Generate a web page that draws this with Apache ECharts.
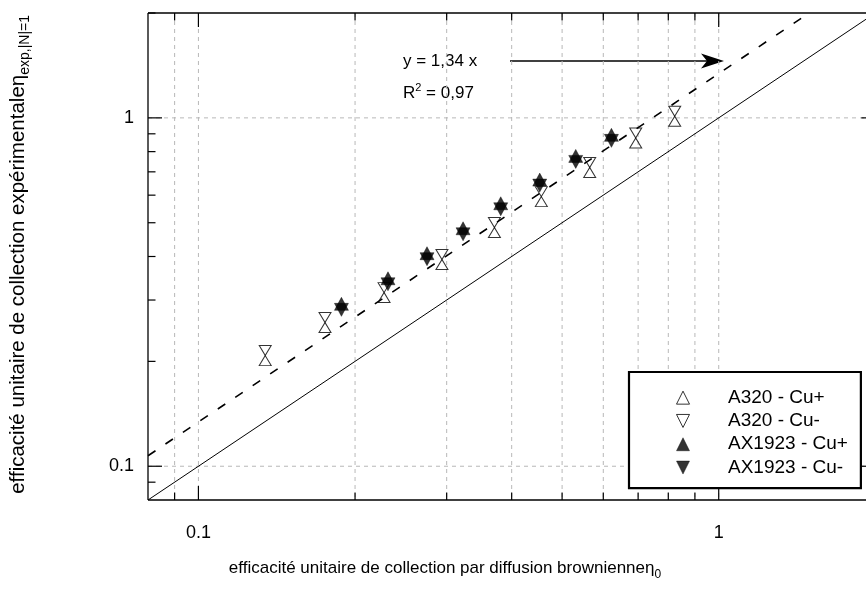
<!DOCTYPE html>
<html>
<head>
<meta charset="utf-8">
<script src="https://cdn.jsdelivr.net/npm/echarts@6/dist/echarts.min.js"></script>
<style>html,body{margin:0;padding:0;background:#fff;}#c{width:866px;height:591px;}</style>
</head>
<body>
<div id="c"></div>
<script>
// ---- data ----
const xMajorTicks = [0.1, 1];
const xTickLabels = ['0.1', '1'];
const yMajorTicks = [0.1, 1];
const yTickLabels = ['0.1', '1'];
const xMinorTicks = [0.09, 0.2, 0.3, 0.4, 0.5, 0.6, 0.7, 0.8, 0.9];
const yMinorTicks = [0.09, 0.2, 0.3, 0.4, 0.5, 0.6, 0.7, 0.8, 0.9, 2];
const xRange = [0.08, 1.919];
const yRange = [0.08, 2];
const rightFrameX = 2; // the frame's right side lies just past the picture edge

const seriesNames = ['A320 - Cu+', 'A320 - Cu-', 'AX1923 - Cu+', 'AX1923 - Cu-'];
const a320CuPlus = [[0.1344,0.2010],[0.1751,0.2501],[0.2274,0.3049],[0.2938,0.3794],[0.3706,0.4687],[0.4561,0.5750],[0.5650,0.6966],[0.6926,0.8466],[0.8230,0.9777]];
const a320CuMinus = [[0.1344,0.2148],[0.1751,0.2672],[0.2274,0.3257],[0.2938,0.4052],[0.3706,0.5006],[0.4561,0.6143],[0.5650,0.7444],[0.6926,0.9045],[0.8230,1.0445]];
const ax1923CuPlus = [[0.1883,0.2868],[0.2314,0.3396],[0.2750,0.4008],[0.3226,0.4726],[0.3811,0.5575],[0.4529,0.6520],[0.5311,0.7625],[0.6220,0.8762]];
const ax1923CuMinus = [[0.1883,0.2868],[0.2314,0.3396],[0.2750,0.4008],[0.3226,0.4726],[0.3811,0.5575],[0.4529,0.6520],[0.5311,0.7625],[0.6220,0.8762]];

const fitSlope = 1.34;
const fitText = 'y = 1,34 x';
const r2Text = '0,97';

// ---- chart ----
const FONT = 'Liberation Sans';
const chart = echarts.init(document.getElementById('c'), null, {renderer: 'canvas'});

const UP = 'path://M5,0 L10,10 L0,10 Z';
const DOWN = 'path://M0,0 L10,0 L5,10 Z';

const identityLine = [[xRange[0], xRange[0]], [yRange[1], yRange[1]]];
const fitLine = [[xRange[0], xRange[0] * fitSlope], [yRange[1] / fitSlope, yRange[1]]];

function labelFor(v, ticks, labels) {
  for (let i = 0; i < ticks.length; i++) if (Math.abs(Math.log10(v) - Math.log10(ticks[i])) < 1e-6) return labels[i];
  return '';
}

const GRID_STYLE = {stroke: '#b8b8b8', lineWidth: 1, lineDash: [4, 4]};
const TICK_STYLE = {stroke: '#000', lineWidth: 1.2};
const FRAME_STYLE = {stroke: '#000', lineWidth: 1.3};

function xTickSeries(values, len, withGrid) {
  return {
    type: 'custom', coordinateSystem: 'cartesian2d', silent: true, z: 1,
    data: values.map(v => [v, 1]),
    renderItem: function (params, api) {
      const cs = params.coordSys;
      const x = api.coord([api.value(0), 1])[0];
      const ch = [];
      if (withGrid) ch.push({type: 'line', shape: {x1: x, y1: cs.y, x2: x, y2: cs.y + cs.height}, style: GRID_STYLE});
      ch.push({type: 'line', shape: {x1: x, y1: cs.y + cs.height, x2: x, y2: cs.y + cs.height - len}, style: TICK_STYLE});
      ch.push({type: 'line', shape: {x1: x, y1: cs.y, x2: x, y2: cs.y + len}, style: TICK_STYLE});
      return {type: 'group', children: ch};
    }
  };
}
function yTickSeries(values, len, withGrid, rightSide) {
  return {
    type: 'custom', coordinateSystem: 'cartesian2d', silent: true, z: 1,
    data: values.map(v => [1, v]),
    renderItem: function (params, api) {
      const cs = params.coordSys;
      const y = api.coord([1, api.value(1)])[1];
      const xr = api.coord([rightFrameX, 1])[0];
      const ch = [];
      if (withGrid) ch.push({type: 'line', shape: {x1: cs.x, y1: y, x2: cs.x + cs.width, y2: y}, style: GRID_STYLE});
      ch.push({type: 'line', shape: {x1: cs.x, y1: y, x2: cs.x + len, y2: y}, style: TICK_STYLE});
      if (rightSide) ch.push({type: 'line', shape: {x1: xr, y1: y, x2: xr - len, y2: y}, style: TICK_STYLE});
      return {type: 'group', children: ch};
    }
  };
}
// frame: left, bottom, top sides
const frameSeries = {
  type: 'custom', coordinateSystem: 'cartesian2d', silent: true, z: 5,
  data: [[1, 1]],
  renderItem: function (params, api) {
    const cs = params.coordSys;
    return {type: 'group', children: [
      {type: 'line', shape: {x1: cs.x, y1: cs.y, x2: cs.x, y2: cs.y + cs.height}, style: FRAME_STYLE},
      {type: 'line', shape: {x1: cs.x, y1: cs.y + cs.height, x2: cs.x + cs.width, y2: cs.y + cs.height}, style: FRAME_STYLE},
      {type: 'line', shape: {x1: cs.x, y1: cs.y, x2: cs.x + cs.width, y2: cs.y}, style: FRAME_STYLE}
    ]};
  }
};

const openStyle = {color: 'rgba(0,0,0,0)', borderColor: '#000', borderWidth: 1};
const filledStyle = {color: '#000', borderColor: '#000', borderWidth: 0.5};

const option = {
  backgroundColor: '#fff',
  animation: false,
  textStyle: {fontFamily: FONT},
  grid: {left: 148, top: 13, right: 0, bottom: 91, show: false, containLabel: false},
  xAxis: {
    type: 'log', logBase: 10, min: xRange[0], max: xRange[1],
    axisLine: {show: false}, axisTick: {show: false}, splitLine: {show: false}, minorTick: {show: false},
    axisLabel: {show: true, margin: 24, fontSize: 18, color: '#000', fontFamily: FONT, showMinLabel: false, showMaxLabel: false,
      formatter: v => labelFor(v, xMajorTicks, xTickLabels)}
  },
  yAxis: {
    type: 'log', logBase: 10, min: yRange[0], max: yRange[1],
    axisLine: {show: false}, axisTick: {show: false}, splitLine: {show: false}, minorTick: {show: false},
    axisLabel: {show: true, margin: 14, fontSize: 18, color: '#000', fontFamily: FONT, showMinLabel: false, showMaxLabel: false,
      formatter: v => labelFor(v, yMajorTicks, yTickLabels)}
  },
  legend: {
    orient: 'vertical', left: 629, top: 372,
    padding: [16, 13, 11, 47],
    itemWidth: 14, itemHeight: 13, itemGap: 4,
    borderColor: '#000', borderWidth: 2.2, backgroundColor: '#fff',
    selectedMode: false,
    textStyle: {fontSize: 19, fontFamily: FONT, color: '#000', lineHeight: 19.3, padding: [0, 0, 0, 33]},
    data: [
      {name: seriesNames[0], icon: UP, itemStyle: openStyle},
      {name: seriesNames[1], icon: DOWN, itemStyle: openStyle},
      {name: seriesNames[2], icon: UP, itemStyle: filledStyle},
      {name: seriesNames[3], icon: DOWN, itemStyle: filledStyle}
    ]
  },
  series: [
    xTickSeries(xMinorTicks, 7.5, true),
    xTickSeries(xMajorTicks, 14, true),
    yTickSeries(yMinorTicks, 7.5, false, false),
    yTickSeries(yMajorTicks, 14, true, true),
    frameSeries,
    {type: 'line', data: identityLine, symbol: 'none', silent: true, z: 2, lineStyle: {color: '#000', width: 1}},
    {type: 'line', data: fitLine, symbol: 'none', silent: true, z: 2, lineStyle: {color: '#000', width: 1.6, type: [9, 12]}},
    {name: seriesNames[0], type: 'scatter', data: a320CuPlus, symbol: UP, symbolSize: [12, 10], itemStyle: openStyle, z: 3},
    {name: seriesNames[1], type: 'scatter', data: a320CuMinus, symbol: DOWN, symbolSize: [12, 10], itemStyle: openStyle, z: 3},
    {name: seriesNames[2], type: 'scatter', data: ax1923CuPlus, symbol: UP, symbolSize: [14, 13], symbolOffset: [0, -3], itemStyle: filledStyle, z: 4},
    {name: seriesNames[3], type: 'scatter', data: ax1923CuMinus, symbol: DOWN, symbolSize: [14, 13], symbolOffset: [0, 3], itemStyle: filledStyle, z: 4}
  ],
  graphic: [
    {type: 'text', left: 403, top: 53, style: {text: fitText, fontSize: 17, fontFamily: FONT, fill: '#000'}},
    {type: 'text', left: 403, top: 82, style: {
      text: '{a|R}{s|2}{a| = ' + r2Text + '}',
      rich: {a: {fontSize: 17, fontFamily: FONT, fill: '#000', verticalAlign: 'bottom', lineHeight: 20}, s: {fontSize: 11, fontFamily: FONT, fill: '#000', verticalAlign: 'top', lineHeight: 20}}
    }},
    {type: 'line', shape: {x1: 510, y1: 61, x2: 712, y2: 61}, style: {stroke: '#000', lineWidth: 1.3}},
    {type: 'polygon', shape: {points: [[724, 61], [701, 53.5], [707, 61], [701, 68.5]]}, style: {fill: '#000'}},
    {type: 'text', x: 445, y: 568, style: {
      text: '{a|efficacité unitaire de collection par diffusion brownienne}{a|η}{s|0}',
      align: 'center', verticalAlign: 'middle',
      rich: {a: {fontSize: 17, fontFamily: FONT, fill: '#000', lineHeight: 20, verticalAlign: 'middle'}, s: {fontSize: 12, fontFamily: FONT, fill: '#000', lineHeight: 26, verticalAlign: 'bottom'}}
    }},
    {type: 'text', x: 18, y: 15, rotation: Math.PI / 2, style: {
      text: '{a|efficacité unitaire de collection expérimentale}{a|η}{s|exp,|N|=1}',
      align: 'right', verticalAlign: 'middle',
      rich: {a: {fontSize: 20.5, fontFamily: FONT, fill: '#000', lineHeight: 23, verticalAlign: 'middle'}, s: {fontSize: 14, fontFamily: FONT, fill: '#000', lineHeight: 29, verticalAlign: 'bottom'}}
    }}
  ]
};
chart.setOption(option);
</script>
</body>
</html>
